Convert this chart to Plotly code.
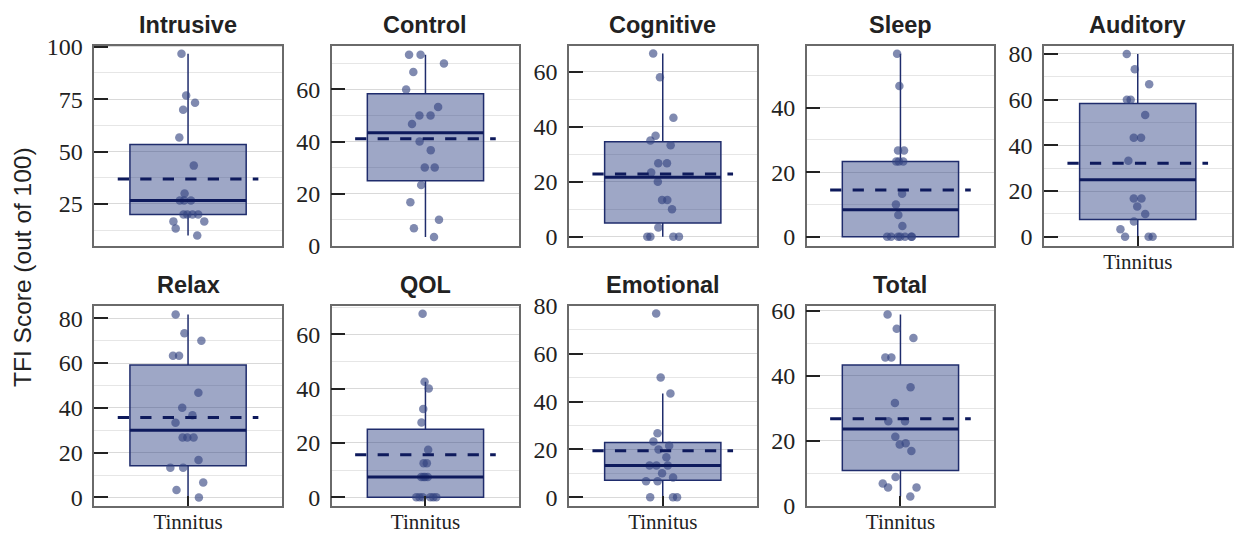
import numpy as np
import plotly.graph_objects as go

# ---- data -------------------------------------------------------------
panel_titles = ["Intrusive", "Control", "Cognitive", "Sleep", "Auditory",
                "Relax", "QOL", "Emotional", "Total"]
group_label = "Tinnitus"
y_axis_title = "TFI Score (out of 100)"

intrusive = [96.7, 76.7, 73.3, 70.0, 56.7, 43.3, 30.0, 26.7, 26.7,
             26.7, 20.0, 20.0, 20.0, 20.0, 16.7, 16.7, 13.3, 10.0]
control = [73.3, 73.3, 70.0, 66.7, 60.0, 53.3, 50.0, 50.0, 46.7,
           40.0, 36.7, 30.0, 30.0, 23.3, 16.7, 10.0, 6.7, 3.3]
cognitive = [66.7, 58.0, 43.3, 36.7, 35.0, 33.3, 26.7, 26.7, 23.3,
             20.0, 13.3, 13.3, 10.0, 3.3, 0.0, 0.0, 0.0, 0.0]
sleep = [56.7, 46.7, 26.7, 26.7, 23.3, 23.3, 23.3, 13.3, 10.0,
         6.7, 3.3, 0.0, 0.0, 0.0, 0.0, 0.0, 0.0, 0.0]
auditory = [80.0, 73.3, 66.7, 60.0, 60.0, 53.3, 43.3, 43.3, 33.3,
            16.7, 16.7, 13.3, 10.0, 6.7, 3.3, 0.0, 0.0, 0.0]
relax = [81.7, 73.3, 70.0, 63.3, 63.3, 46.7, 40.0, 36.7, 33.3,
         26.7, 26.7, 26.7, 16.7, 13.3, 13.3, 6.7, 3.3, 0.0]
qol = [67.5, 42.5, 40.0, 32.5, 27.5, 17.5, 12.5, 12.5, 7.5,
       7.5, 7.5, 7.5, 0.0, 0.0, 0.0, 0.0, 0.0, 0.0]
emotional = [76.7, 50.0, 43.3, 26.7, 23.3, 21.5, 20.0, 16.7, 13.3,
             13.3, 13.3, 10.0, 8.3, 6.7, 6.7, 0.0, 0.0, 0.0]
total = [58.8, 54.4, 51.6, 45.6, 45.6, 36.4, 31.6, 26.0, 26.0,
         21.2, 19.2, 18.8, 16.8, 8.8, 6.8, 5.6, 5.6, 2.8]

panel_scores = [intrusive, control, cognitive, sleep, auditory,
                relax, qol, emotional, total]

# ---- axis settings per panel -------------------------------------------
y_dticks = [25, 20, 20, 20, 20, 20, 20, 20, 20]
y_ranges = [[5.1, 100.5], [0.0, 76.8], [-3.3, 69.5], [-2.8, 59.2], [-3.9, 83.6],
            [-3.7, 85.6], [-3.1, 70.5], [-3.5, 80.0], [0.0, 61.5]]
# panels whose x axis carries the group label
labelled_panels = {4, 5, 6, 7, 8}

# ---- geometry / style ----------------------------------------------------
W, H = 1236, 534
COL_LEFT = [94.3, 331.7, 569.0, 806.7, 1044.0]
ROW_TOP = [45.7, 305.7]
PANEL_W, PANEL_H = 187.5, 200.0
BOX_W = 0.62          # box width in x-axis units (axis spans 1.0)
MEAN_HALF = 0.375     # half-length of the mean line

NAVY = "#0e1a5c"
BOX_LINE = "#1f2c6c"
BOX_FILL = "rgba(41,60,128,0.45)"
POINT = "rgba(50,66,128,0.62)"
FRAME = "#6a6a6a"
INK = "#222222"
SANS = "Liberation Sans, Arial, sans-serif"
SERIF = "Liberation Serif, Times New Roman, serif"


def tukey_stats(vals):
    a = np.asarray(vals, dtype=float)
    q1, med, q3 = np.percentile(a, [25, 50, 75])
    iqr = q3 - q1
    lo = a[a >= q1 - 1.5 * iqr].min()
    hi = a[a <= q3 + 1.5 * iqr].max()
    return q1, med, q3, lo, hi, a.mean()


fig = go.Figure()
layout = dict(
    width=W, height=H,
    margin=dict(l=0, r=0, t=0, b=0, pad=0, autoexpand=False),
    paper_bgcolor="white", plot_bgcolor="white",
    showlegend=False,
    annotations=[],
)

for i, (title, vals) in enumerate(zip(panel_titles, panel_scores)):
    row, col = divmod(i, 5)
    n = "" if i == 0 else str(i + 1)
    xa, ya = "x" + n, "y" + n

    x0 = COL_LEFT[col] / W
    x1 = (COL_LEFT[col] + PANEL_W) / W
    y1 = 1 - ROW_TOP[row] / H
    y0 = 1 - (ROW_TOP[row] + PANEL_H) / H

    q1, med, q3, lo, hi, mean = tukey_stats(vals)

    fig.add_trace(go.Box(
        x=[0], y=[vals],
        q1=[q1], median=[med], q3=[q3], lowerfence=[lo], upperfence=[hi],
        width=BOX_W, whiskerwidth=0,
        boxpoints="all", jitter=0.36, pointpos=0,
        fillcolor=BOX_FILL,
        line=dict(color=BOX_LINE, width=1.5),
        marker=dict(color=POINT, size=8.5, line=dict(width=0)),
        xaxis=xa, yaxis=ya, hoverinfo="skip",
    ))
    # median drawn heavier than the box outline
    fig.add_trace(go.Scatter(
        x=[-BOX_W / 2, BOX_W / 2], y=[med, med], mode="lines",
        line=dict(color=NAVY, width=3),
        xaxis=xa, yaxis=ya, hoverinfo="skip",
    ))
    # group mean as a dashed line spanning most of the panel
    fig.add_trace(go.Scatter(
        x=[-MEAN_HALF, MEAN_HALF], y=[mean, mean], mode="lines",
        line=dict(color=NAVY, width=3, dash="11.25px,11.25px"),
        xaxis=xa, yaxis=ya, hoverinfo="skip",
    ))

    show_x = i in labelled_panels
    layout["xaxis" + n] = dict(
        domain=[x0, x1], anchor=ya, range=[-0.5, 0.5], automargin=False,
        showgrid=False, zeroline=False,
        showline=True, mirror=True, linecolor=FRAME, linewidth=1.5,
        tickmode="array", tickvals=[0], ticktext=[group_label],
        ticks="inside" if show_x else "", ticklen=10, tickwidth=2, tickcolor=INK,
        showticklabels=show_x, ticklabelstandoff=-4,
        tickfont=dict(family=SERIF, size=21, color=INK),
        fixedrange=True,
    )
    dt = y_dticks[i]
    layout["yaxis" + n] = dict(
        domain=[y0, y1], anchor=xa, range=y_ranges[i], automargin=False,
        tick0=0, dtick=dt,
        ticks="inside", ticklen=14, tickwidth=2, tickcolor=INK,
        tickfont=dict(family=SERIF, size=24, color=INK),
        ticklabelstandoff=5,
        showgrid=True, gridcolor="#d9d9d9", gridwidth=1,
        minor=dict(dtick=dt / 2, tick0=0, showgrid=True,
                   gridcolor="#e6e6e6", gridwidth=1, ticks=""),
        zeroline=False,
        showline=True, mirror=True, linecolor=FRAME, linewidth=1.5,
        fixedrange=True,
    )

    layout["annotations"].append(dict(
        text="<b>" + title + "</b>", xref="paper", yref="paper",
        x=(x0 + x1) / 2, y=y1, xanchor="center", yanchor="bottom",
        yshift=6, showarrow=False,
        font=dict(family=SANS, size=23.5, color=INK),
    ))

layout["annotations"].append(dict(
    text=y_axis_title, xref="paper", yref="paper",
    x=22.5 / W, y=1 - 267.5 / H, xanchor="center", yanchor="middle",
    textangle=-90, showarrow=False,
    font=dict(family=SANS, size=24.5, color=INK),
))

fig.update_layout(**layout)
fig.write_html("out.html")
